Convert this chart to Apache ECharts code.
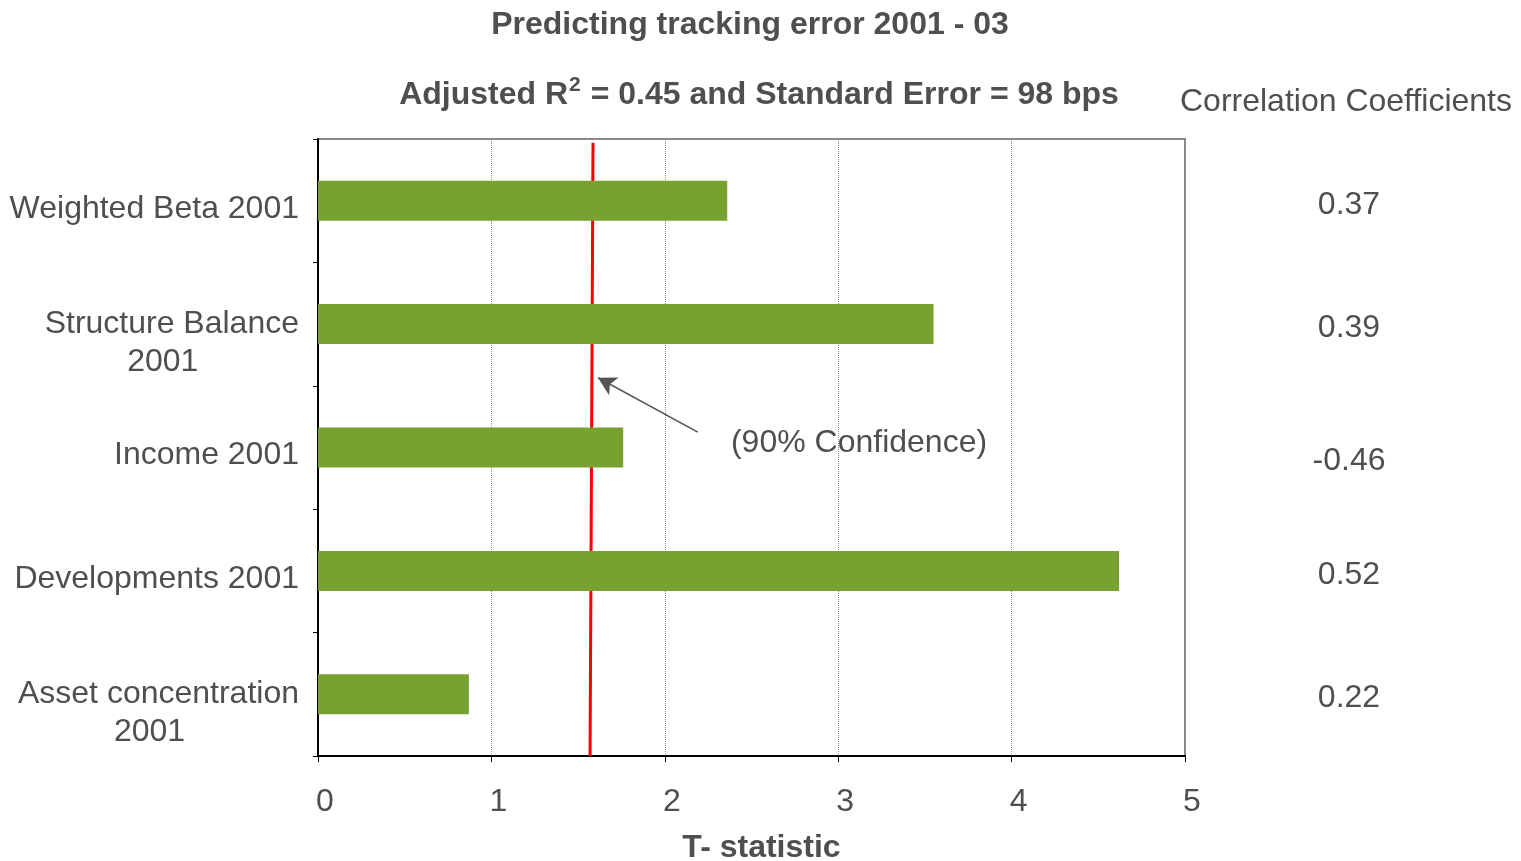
<!DOCTYPE html>
<html>
<head>
<meta charset="utf-8">
<script src="https://cdn.jsdelivr.net/npm/echarts@6/dist/echarts.min.js"></script>
<style>
  html, body { margin: 0; padding: 0; background: #ffffff; }
  #chart { width: 1521px; height: 861px; }
</style>
</head>
<body>
<div id="chart"></div>
<script>
// Regression drivers of tracking error (top to bottom)
const categories = [
  'Weighted Beta 2001',
  'Structure Balance\n2001',
  'Income 2001',
  'Developments 2001',
  'Asset concentration\n2001'
];
// T-statistic of each driver
const tStats = [2.36, 3.55, 1.76, 4.62, 0.87];
// Correlation coefficient of each driver with tracking error
const correlations = [0.37, 0.39, -0.46, 0.52, 0.22];
// 90% confidence critical t value, drawn from the top of the plot to the bottom
const criticalT = { top: 1.586, bottom: 1.569 };
// Arrow pointing at the critical line: tail and head in (t, fraction of plot height)
const arrowTail = [2.19, 0.525];
const arrowHead = [1.615, 0.613];
const confidenceLabel = '(90% Confidence)';
const confidenceLabelAt = [3.12, 0.507];

const TEXT = '#4f4f4f';
const FONT = 'Liberation Sans, Arial, sans-serif';
const FS = 32;

const chart = echarts.init(document.getElementById('chart'), null, { renderer: 'canvas' });

const option = {
  backgroundColor: '#ffffff',
  animation: false,
  textStyle: { fontFamily: FONT },
  title: [
    {
      text: 'Predicting tracking error 2001 - 03',
      left: 745, top: 4, textAlign: 'center',
      textStyle: { fontFamily: FONT, fontSize: FS, fontWeight: 'bold', color: TEXT }
    },
    {
      text: '{b|Adjusted R}{sup|2}{b| = 0.45 and Standard Error = 98 bps}',
      left: 754, top: 70, textAlign: 'center',
      textStyle: {
        fontFamily: FONT, fontSize: FS, fontWeight: 'bold', color: TEXT,
        rich: {
          b: { fontFamily: FONT, fontSize: FS, fontWeight: 'bold', color: TEXT, lineHeight: 40 },
          sup: { fontFamily: FONT, fontSize: 21, fontWeight: 'bold', color: TEXT, verticalAlign: 'top', lineHeight: 40, padding: [0, 1, 0, 1] }
        }
      }
    },
    {
      text: 'Correlation Coefficients',
      left: 1341, top: 81, textAlign: 'center',
      textStyle: { fontFamily: FONT, fontSize: FS, fontWeight: 'normal', color: TEXT }
    }
  ],
  grid: {
    left: 318, right: 336, top: 139, bottom: 105,
    outerBoundsMode: 'none',
    containLabel: false,
    show: true, borderColor: '#8a8a8a', borderWidth: 2, backgroundColor: 'transparent'
  },
  xAxis: {
    type: 'value', min: 0, max: 5, interval: 1,
    name: 'T- statistic', nameLocation: 'middle', nameGap: 76,
    nameTextStyle: { fontFamily: FONT, fontSize: FS, fontWeight: 'bold', color: TEXT, padding: [0, 0, 0, 20] },
    axisLine: { show: true, onZero: false, lineStyle: { color: '#000', width: 2 } },
    axisTick: { show: true, length: 6, lineStyle: { color: '#000', width: 1 } },
    axisLabel: { fontFamily: FONT, fontSize: FS, color: TEXT, margin: 30, padding: [0, 0, 0, 14] },
    splitLine: { show: true, lineStyle: { color: '#8c8c8c', width: 1, type: [1, 1] } }
  },
  yAxis: [
    {
      type: 'category', data: categories, inverse: true,
      axisLine: { show: true, lineStyle: { color: '#000', width: 2 } },
      axisTick: { show: true, length: 5, lineStyle: { color: '#000', width: 1 } },
      axisLabel: {
        margin: 19,
        padding: [16, 0, 0, 0],
        formatter: function (v) {
          const lines = v.split('\n');
          if (lines.length === 1) return '{s|' + v + '}';
          // two-line labels sit a little lower, with the second line centred under the first
          return '{sp| }\n{s|' + lines[0] + '}\n{m2|' + lines.slice(1).join(' ') + '}';
        },
        rich: {
          sp: { fontFamily: FONT, fontSize: 8, lineHeight: 22 },
          s: { fontFamily: FONT, fontSize: FS, color: TEXT, align: 'center', lineHeight: 38 },
          m2: { fontFamily: FONT, fontSize: FS, color: TEXT, align: 'center', lineHeight: 38, padding: [0, 18, 0, 0] }
        }
      },
      splitLine: { show: false }
    },
    {
      type: 'category', data: categories, inverse: true, position: 'right',
      axisLine: { show: true, lineStyle: { color: '#8a8a8a', width: 2 } },
      axisTick: { show: false },
      axisLabel: {
        margin: 164, align: 'center',
        formatter: function (v, i) {
          const text = correlations[i].toFixed(2);
          return (correlations[i] < 0 ? '{low|' : '{n|') + text + '}';
        },
        rich: {
          n: { fontFamily: FONT, fontSize: FS, color: TEXT, padding: [8, 0, 0, 0] },
          low: { fontFamily: FONT, fontSize: FS, color: TEXT, padding: [27, 0, 0, 0] }
        }
      },
      splitLine: { show: false }
    },
    {
      type: 'value', min: 0, max: 1, show: false,
      splitLine: { show: false }
    }
  ],
  series: [
    {
      name: 'Critical t (90%)',
      type: 'line',
      xAxisIndex: 0, yAxisIndex: 2,
      z: 1,
      symbol: 'none',
      clip: false,
      lineStyle: { color: '#ff0000', width: 3 },
      data: [[criticalT.top, 0.994], [criticalT.bottom, 0]],
      markLine: {
        silent: true,
        symbol: ['none', 'arrow'],
        symbolSize: [15, 18],
        label: { show: false },
        lineStyle: { color: '#555555', width: 1.5, type: 'solid' },
        data: [[{ coord: arrowTail }, { coord: arrowHead }]]
      },
      markPoint: {
        silent: true,
        symbol: 'circle', symbolSize: 0,
        label: {
          show: true, position: 'inside',
          fontFamily: FONT, fontSize: FS, color: TEXT,
          formatter: confidenceLabel
        },
        data: [{ coord: confidenceLabelAt }]
      }
    },
    {
      name: 'T-statistic',
      type: 'bar',
      xAxisIndex: 0, yAxisIndex: 0,
      z: 3,
      barWidth: 40,
      itemStyle: { color: '#77a131' },
      data: tStats
    }
  ]
};

chart.setOption(option);
</script>
</body>
</html>
